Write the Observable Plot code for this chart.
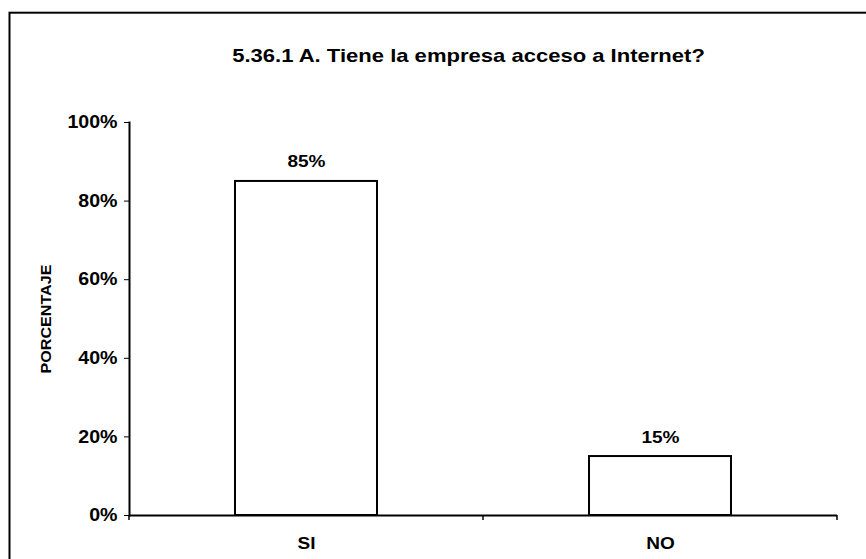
<!DOCTYPE html>
<html>
<head>
<meta charset="utf-8">
<script src="https://cdn.jsdelivr.net/npm/d3@7"></script>
<script src="https://cdn.jsdelivr.net/npm/@observablehq/plot@0.6"></script>
<style>
  html, body { margin: 0; padding: 0; background: #fff; overflow: hidden; }
  #chart { position: relative; width: 866px; height: 559px; }
  #chart svg { font-family: "Liberation Sans", Arial, sans-serif; }
</style>
</head>
<body>
<div id="chart"></div>
<script>
// Survey answers: does the company have Internet access?
const categories = ["SI", "NO"];
const shares = [0.85, 0.15];
const yTicks = [0, 0.2, 0.4, 0.6, 0.8, 1];
const title = "5.36.1 A. Tiene la empresa acceso a Internet?";
const yLabel = "PORCENTAJE";

const data = categories.map((c, i) => ({answer: c, share: shares[i]}));
const pct = d3.format(".0%");

const W = 866, H = 559;
const mL = 129, mR = 29, mT = 122, mB = 44;

// horizontal widening of the lettering, per group of labels
const widen = [
  ['g[aria-description="chart-title"] text', 1.26],
  ['g[aria-description="y-title"] text', 1.15],
  ['g[aria-description="value-label"] text', 1.12],
  ['g[aria-label="y-axis tick label"] text', 1.12],
  ['g[aria-label="x-axis tick label"] text', 1.12]
];

const plot = Plot.plot({
  width: W,
  height: H,
  marginLeft: mL,
  marginRight: mR,
  marginTop: mT,
  marginBottom: mB,
  style: {fontFamily: "'Liberation Sans', Arial, sans-serif", background: "white", color: "black", overflow: "visible"},
  x: {domain: categories, paddingInner: 0.6, paddingOuter: 0.3},
  y: {domain: [0, 1]},
  marks: [
    Plot.barY(data, {x: "answer", y: "share", fill: "white", stroke: "black", strokeWidth: 2}),
    Plot.text(data, {x: "answer", y: "share", text: d => pct(d.share), lineAnchor: "bottom", dy: -14,
      fontSize: 17, fontWeight: "bold", fill: "black", ariaDescription: "value-label"}),
    Plot.axisY({ticks: yTicks, tickFormat: pct, tickSize: 5, tickPadding: 7, tickStrokeWidth: 1.5,
      fontSize: 17.5, fontWeight: "bold", label: null}),
    Plot.axisX({tickSize: 0, tickPadding: 21, fontSize: 17, fontWeight: "bold", label: null}),
    Plot.ruleY([0], {stroke: "black", strokeWidth: 2}),
    Plot.frame({anchor: "left", stroke: "black", strokeWidth: 2}),
    Plot.text([title], {frameAnchor: "top-left", dx: 339, dy: -73, textAnchor: "middle",
      fontSize: 17.5, fontWeight: "bold", fill: "black", ariaDescription: "chart-title"}),
    Plot.text([yLabel], {frameAnchor: "left", dx: -83, rotate: -90, textAnchor: "middle",
      fontSize: 14, fontWeight: "bold", fill: "black", ariaDescription: "y-title"})
  ]
});

const svg = d3.select(plot);

// widen the lettering around each label's anchor point
for (const [selector, k] of widen) {
  svg.selectAll(selector).each(function() {
    const t = d3.select(this);
    const tr = t.attr("transform") || "";
    t.attr("transform", `${tr} scale(${k},1)`);
  });
}

// category boundary ticks below the baseline, from the band scale
const xs = plot.scale("x");
const ys = plot.scale("y");
const y0 = ys.apply(0);
const step = xs.step, bw = xs.bandwidth;
const boundaries = [xs.apply(categories[0]) - (step - bw) / 2]
  .concat(categories.map(c => xs.apply(c) + bw + (step - bw) / 2));
svg.append("g")
  .selectAll("line")
  .data(boundaries)
  .join("line")
  .attr("x1", d => d).attr("x2", d => d)
  .attr("y1", y0).attr("y2", y0 + 5)
  .attr("stroke", "black").attr("stroke-width", 1.5);

// outer chart border
svg.append("rect")
  .attr("x", 9.5).attr("y", 12.7)
  .attr("width", 1000).attr("height", 1000)
  .attr("fill", "none").attr("stroke", "black").attr("stroke-width", 2);

document.getElementById("chart").appendChild(plot);
</script>
</body>
</html>
